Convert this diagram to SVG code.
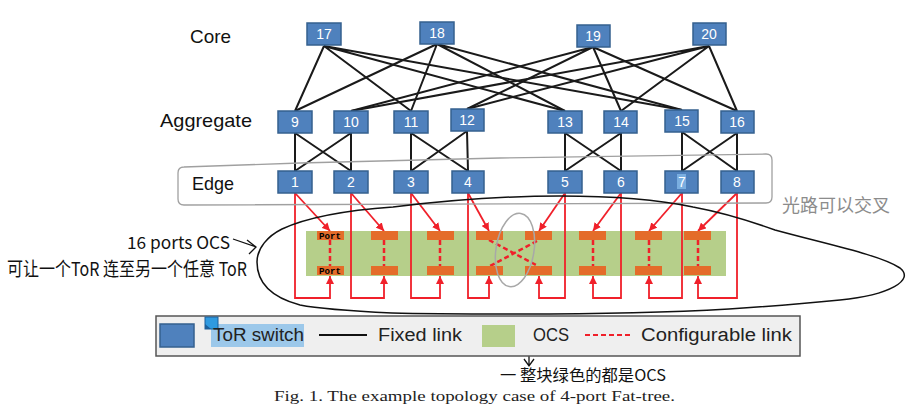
<svg xmlns="http://www.w3.org/2000/svg" width="914" height="414" viewBox="0 0 914 414">
<defs>
<style>
.sw rect{fill:#4f81bd;stroke:#35608f;stroke-width:1.5}
.sw text{fill:#fff;font-family:"Liberation Sans",Arial,sans-serif;font-size:14px;text-anchor:middle}
.lbl{font-family:"Liberation Sans",Arial,sans-serif;font-size:19px;fill:#111}
.fx{stroke:#1a1a1a;stroke-width:2;fill:none}
.rd{stroke:#f0202a;stroke-width:1.8;fill:none}
.cf{stroke:#f0202a;stroke-width:2.5;stroke-dasharray:5 3;fill:none}
.port{fill:#e46c2a}
.hw{font-family:"Noto Sans CJK SC","Noto Sans",sans-serif;fill:#111}
.lg{font-family:"Liberation Sans",Arial,sans-serif;font-size:18px;fill:#222}
</style>
<marker id="ar" viewBox="0 0 10 10" refX="10" refY="5" markerWidth="8" markerHeight="8" markerUnits="userSpaceOnUse" orient="auto">
<path d="M0,0 L10,5 L0,10 z" fill="#f0202a"/>
</marker>
</defs>
<rect width="914" height="414" fill="#fff"/>

<text class="lbl" x="190" y="43" textLength="41" lengthAdjust="spacingAndGlyphs">Core</text>
<text class="lbl" x="160" y="127" textLength="92" lengthAdjust="spacingAndGlyphs">Aggregate</text>
<text class="lbl" x="192" y="190" textLength="42" lengthAdjust="spacingAndGlyphs">Edge</text>

<g id="ocs">
<rect x="306" y="231" width="420" height="45" fill="#b6cf8a"/>
</g>

<g id="connectors">
<g class="fx">
<path d="M324,46 L295,111 M324,46 L411,111 M324,46 L565,111 M324,46 L682,110"/>
<path d="M437,44 L295,111 M437,44 L411,111 M437,44 L565,111 M437,44 L682,110"/>
<path d="M593,47 L351,111 M593,47 L467,109 M593,47 L621,111 M593,47 L737,111"/>
<path d="M709,46 L351,111 M709,46 L467,109 M709,46 L621,111 M709,46 L737,111"/>
<path d="M295,133 L295,171 M295,133 L351,171 M351,133 L295,171 M351,133 L351,171"/>
<path d="M411,133 L411,171 M411,133 L468,171 M467,131 L411,171 M467,131 L468,171"/>
<path d="M565,133 L565,171 M565,133 L621,171 M621,133 L565,171 M621,133 L621,171"/>
<path d="M682,132 L682,171 M682,132 L737,171 M737,133 L682,171 M737,133 L737,171"/>
</g>
<g class="rd" marker-end="url(#ar)">
<path d="M295,193 L330,231"/><path d="M295,193 V298 H330 V276"/>
<path d="M351,193 L384,231"/><path d="M351,193 V298 H384 V276"/>
<path d="M411,193 L440,231"/><path d="M411,193 V298 H440 V276"/>
<path d="M468,193 L489,231"/><path d="M468,193 V298 H489 V276"/>
<path d="M565,193 L539,231"/><path d="M565,193 V298 H539 V276"/>
<path d="M621,193 L593,231"/><path d="M621,193 V298 H593 V276"/>
<path d="M682,193 L649,231"/><path d="M682,193 V298 H649 V276"/>
<path d="M737,193 L698,231"/><path d="M737,193 V298 H698 V276"/>
</g>
<g class="cf">
<path d="M330,240 V266 M384,240 V266 M440,240 V266 M593,240 V266 M649,240 V266 M698,240 V266"/>
<path d="M489,240 L538,266 M537,241 L490,266"/>
</g>
</g>

<g id="ports">
<rect class="port" x="317" y="231" width="27" height="9"/>
<rect class="port" x="371" y="231" width="27" height="9"/>
<rect class="port" x="427" y="231" width="27" height="9"/>
<rect class="port" x="476" y="231" width="27" height="9"/>
<rect class="port" x="525" y="231" width="27" height="9"/>
<rect class="port" x="579" y="231" width="27" height="9"/>
<rect class="port" x="635" y="231" width="27" height="9"/>
<rect class="port" x="684" y="231" width="27" height="9"/>
<rect class="port" x="317" y="266" width="27" height="9"/>
<rect class="port" x="371" y="266" width="27" height="9"/>
<rect class="port" x="427" y="266" width="27" height="9"/>
<rect class="port" x="476" y="266" width="27" height="9"/>
<rect class="port" x="525" y="266" width="27" height="9"/>
<rect class="port" x="579" y="266" width="27" height="9"/>
<rect class="port" x="635" y="266" width="27" height="9"/>
<rect class="port" x="684" y="266" width="27" height="9"/>
<text x="319" y="239" font-family="Liberation Mono,monospace" font-weight="bold" font-size="9" textLength="22" lengthAdjust="spacingAndGlyphs" fill="#000">Port</text>
<text x="319" y="274" font-family="Liberation Mono,monospace" font-weight="bold" font-size="9" textLength="22" lengthAdjust="spacingAndGlyphs" fill="#000">Port</text>
</g>

<g id="n17" class="sw"><rect x="307" y="23" width="34" height="22"/><text x="324" y="39">17</text></g>
<g id="n18" class="sw"><rect x="420" y="22" width="34" height="22"/><text x="437" y="38">18</text></g>
<g id="n19" class="sw"><rect x="577" y="25" width="33" height="22"/><text x="593" y="41">19</text></g>
<g id="n20" class="sw"><rect x="693" y="23" width="33" height="22"/><text x="709" y="39">20</text></g>

<g id="n9" class="sw"><rect x="278" y="111" width="34" height="22"/><text x="295" y="127">9</text></g>
<g id="n10" class="sw"><rect x="334" y="111" width="34" height="22"/><text x="351" y="127">10</text></g>
<g id="n11" class="sw"><rect x="394" y="111" width="34" height="22"/><text x="411" y="127">11</text></g>
<g id="n12" class="sw"><rect x="451" y="109" width="33" height="22"/><text x="467" y="125">12</text></g>
<g id="n13" class="sw"><rect x="548" y="111" width="34" height="22"/><text x="565" y="127">13</text></g>
<g id="n14" class="sw"><rect x="604" y="111" width="33" height="22"/><text x="621" y="127">14</text></g>
<g id="n15" class="sw"><rect x="665" y="110" width="33" height="22"/><text x="682" y="126">15</text></g>
<g id="n16" class="sw"><rect x="721" y="111" width="33" height="22"/><text x="737" y="127">16</text></g>

<g id="n1" class="sw"><rect x="278" y="171" width="34" height="22"/><text x="295" y="187">1</text></g>
<g id="n2" class="sw"><rect x="334" y="171" width="34" height="22"/><text x="351" y="187">2</text></g>
<g id="n3" class="sw"><rect x="394" y="171" width="34" height="22"/><text x="411" y="187">3</text></g>
<g id="n4" class="sw"><rect x="452" y="171" width="32" height="22"/><text x="468" y="187">4</text></g>
<g id="n5" class="sw"><rect x="548" y="171" width="34" height="22"/><text x="565" y="187">5</text></g>
<g id="n6" class="sw"><rect x="604" y="171" width="33" height="22"/><text x="621" y="187">6</text></g>
<g id="n7" class="sw"><rect x="665" y="171" width="33" height="22"/><rect x="677" y="174" width="9" height="15" style="fill:#7aaee0;stroke:none"/><text x="682" y="187">7</text></g>
<g id="n8" class="sw"><rect x="721" y="171" width="33" height="22"/><text x="737" y="187">8</text></g>

<g id="annotations" fill="none">
<path d="M184,167 Q178,167 178,173 L178,199 Q178,205 184,205 L766,203 Q772,203 772,197 L772,160 Q772,154 766,154 L500,158 L300,163 Z" stroke="#a0a0a0" stroke-width="1.3"/>
<path d="M257,262 C257,248 268,236 282,229 C310,216 350,210 393,207 C450,200 510,196 560,196 C610,196 655,199 693,207 C720,212 750,221 775,230 C830,245 880,255 900,268 C915,280 890,295 840,300 C800,304 760,307 729,309 C660,313 580,314 519,314 C470,314 430,314 392,313 C350,311 320,309 300,305 C270,297 257,282 257,262 Z" stroke="#111" stroke-width="1.5"/>
<ellipse cx="515" cy="250" rx="19" ry="37" transform="rotate(9 515 250)" stroke="#a8a8a8" stroke-width="1.5"/>
<path d="M233,239 L256,247 M247,240 L256,247 L249,254" stroke="#111" stroke-width="1.3"/>
<path d="M482,350 C500,353 515,347 530,350 C545,353 555,347 568,349" stroke="#111" stroke-width="1.3"/>
<path d="M529,352 L529,366 M524,359 L529,366 L534,359" stroke="#111" stroke-width="1.3"/>
</g>
<text class="hw" x="127" y="249" font-size="17" textLength="103" lengthAdjust="spacingAndGlyphs">16 ports OCS</text>
<text class="hw" x="7" y="276" font-size="19" textLength="240" lengthAdjust="spacingAndGlyphs">可让一个ToR 连至另一个任意 ToR</text>
<text class="hw" x="782" y="212" font-size="18" style="fill:#8c8c8c" textLength="108" lengthAdjust="spacingAndGlyphs">光路可以交叉</text>
<text class="hw" x="500" y="381" font-size="16" textLength="166" lengthAdjust="spacingAndGlyphs">一 整块绿色的都是OCS</text>

<g id="legend">
<rect x="156" y="316" width="644" height="40" fill="#efefef" stroke="#555" stroke-width="1.5"/>
<rect x="160" y="324" width="34" height="23" fill="#4f81bd" stroke="#35608f" stroke-width="1.5"/>
<rect x="211" y="324" width="93" height="23" fill="#9cc8ea"/>
<rect x="205" y="317" width="13" height="12" fill="#2f9ae0" stroke="#1d5f9a" stroke-width="1"/>
<path d="M205,324 L211,329 L205,329 Z" fill="#1d5f9a"/>
<text class="lg" x="213" y="341" textLength="91" lengthAdjust="spacingAndGlyphs">ToR switch</text>
<path d="M319,335 H367" stroke="#111" stroke-width="2"/>
<text class="lg" x="378" y="341" textLength="84" lengthAdjust="spacingAndGlyphs">Fixed link</text>
<rect x="482" y="325" width="33" height="22" fill="#b6cf8a"/>
<text class="lg" x="533" y="341" textLength="36" lengthAdjust="spacingAndGlyphs">OCS</text>
<path d="M585,335 H632" stroke="#f0202a" stroke-width="2" stroke-dasharray="5 3"/>
<text class="lg" x="641" y="341" textLength="151" lengthAdjust="spacingAndGlyphs">Configurable link</text>
</g>

<text x="274" y="401" font-family="Liberation Serif,serif" font-size="15" fill="#222" textLength="401" lengthAdjust="spacingAndGlyphs">Fig. 1.  The example topology case of 4-port Fat-tree.</text>
</svg>
